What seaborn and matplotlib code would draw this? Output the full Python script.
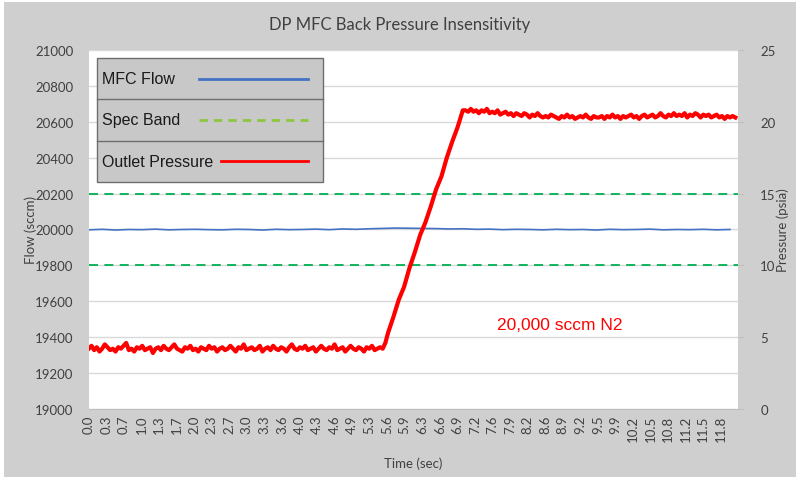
import numpy as np
import seaborn as sns
import matplotlib.pyplot as plt
from matplotlib.patches import Rectangle
from matplotlib.lines import Line2D

# ---- data ----
tick_labels = ["0.0", "0.3", "0.7", "1.0", "1.3", "1.7", "2.0", "2.3", "2.7", "3.0",
               "3.3", "3.6", "4.0", "4.3", "4.6", "4.9", "5.3", "5.6", "5.9", "6.3",
               "6.6", "6.9", "7.2", "7.6", "7.9", "8.2", "8.6", "8.9", "9.2", "9.5",
               "9.9", "10.2", "10.5", "10.8", "11.2", "11.5", "11.8"]
tick_step = 0.3285

spec_band = [20200, 19800]

# MFC flow (sccm), sampled every 0.25 s
flow = [19998, 20001, 19997, 20000, 19999, 20002, 19998, 20000, 20001,
        19999, 19998, 20001, 20000, 19997, 20001, 19999, 20000,
        20002, 19999, 20003, 20001, 20004, 20006, 20008, 20007,
        20006, 20005, 20003, 20004, 20001, 20002, 19999, 20001,
        20000, 19998, 20001, 19999, 20000, 19997, 20001, 19999,
        20000, 20002, 19998, 20000, 19999, 20001, 19998, 20000]

# outlet pressure (psia): baseline every 0.05 s from 0 s
p_base = [4.2, 4.4, 4.1, 4.3, 4.0, 4.2, 4.5, 4.3, 4.1, 4.2,
          4.0, 4.3, 4.2, 4.4, 4.6, 4.1, 4.2, 4.0, 4.3, 4.2,
          4.4, 4.1, 4.2, 4.3, 3.9, 4.2, 4.3, 4.1, 4.4, 4.2,
          4.1, 4.3, 4.5, 4.2, 4.1, 4.0, 4.3, 4.2, 4.4, 4.1,
          4.2, 4.0, 4.3, 4.2, 4.1, 4.4, 4.2, 4.3, 4.0, 4.2,
          4.3, 4.1, 4.2, 4.4, 4.2, 4.0, 4.3, 4.2, 4.5, 4.1,
          4.2, 4.3, 4.1, 4.2, 4.4, 4.0, 4.2, 4.3, 4.1, 4.4,
          4.2, 4.1, 4.3, 4.2, 4.0, 4.3, 4.5, 4.2, 4.1, 4.3,
          4.2, 4.4, 4.1, 4.2, 4.3, 4.0, 4.2, 4.4, 4.2, 4.1,
          4.3, 4.2, 4.5, 4.1, 4.2, 4.3, 4.0, 4.2, 4.4, 4.2,
          4.1, 4.3, 4.2, 4.0, 4.3, 4.2, 4.4, 4.1, 4.2, 4.3, 4.2]
# ramp
ramp_t = [5.55, 5.6, 5.7, 5.8, 5.9, 6.0, 6.1, 6.2, 6.3, 6.4, 6.5, 6.6, 6.7, 6.8, 6.9, 7.0]
ramp_p = [4.6, 5.3, 6.4, 7.6, 8.5, 9.8, 10.9, 12.1, 13.0, 14.1, 15.3, 16.2, 17.5, 18.6, 19.6, 20.8]
# plateau every 0.05 s from 7.05 s
p_top = [20.8, 20.7, 20.9, 20.7, 20.8, 20.6, 20.8, 20.7, 20.9, 20.6,
         20.7, 20.6, 20.8, 20.5, 20.6, 20.7, 20.5, 20.6, 20.4, 20.6,
         20.5, 20.4, 20.6, 20.5, 20.3, 20.5, 20.4, 20.6, 20.4, 20.3,
         20.4, 20.3, 20.5, 20.4, 20.3, 20.2, 20.4, 20.3, 20.5, 20.3,
         20.4, 20.2, 20.3, 20.4, 20.3, 20.5, 20.3, 20.2, 20.4, 20.3,
         20.3, 20.4, 20.2, 20.4, 20.3, 20.5, 20.3, 20.4, 20.2, 20.4,
         20.3, 20.4, 20.5, 20.3, 20.4, 20.2, 20.4, 20.5, 20.3, 20.4,
         20.5, 20.3, 20.4, 20.6, 20.4, 20.3, 20.5, 20.4, 20.6, 20.4,
         20.5, 20.4, 20.6, 20.3, 20.5, 20.4, 20.6, 20.5, 20.3, 20.5,
         20.4, 20.5, 20.3, 20.4, 20.5, 20.3, 20.4, 20.2, 20.4, 20.3,
         20.4, 20.3]

t_flow = np.arange(len(flow)) * 0.25
t_pres = np.concatenate([np.arange(len(p_base)) * 0.05, ramp_t,
                         7.05 + np.arange(len(p_top)) * 0.05])
pressure = np.concatenate([p_base, ramp_p, p_top])

# ---- plot ----
bg = "#d0cfcf"
fig = plt.figure(figsize=(8, 4.81), dpi=100, facecolor="white")
fig.patches.append(Rectangle((0.005, 0.006), 0.99, 0.988, transform=fig.transFigure,
                             facecolor=bg, edgecolor="none", zorder=-10))
ax = fig.add_axes([0.111, 0.1476, 0.8115, 0.7464])
ax.set_facecolor("white")
ax2 = ax.twinx()

for y in spec_band:
    ax.axhline(y, color="#00b050", lw=1.3, dashes=(5, 3.5), zorder=2)
sns.lineplot(x=t_flow, y=flow, ax=ax, color="#4472c4", linewidth=1.2,
             estimator=None, sort=False, zorder=3)
sns.lineplot(x=t_pres, y=pressure, ax=ax2, color="#ff0000", linewidth=3.0,
             estimator=None, sort=False, zorder=4)

ax.set_xlim(0, 12.15)
ax.set_ylim(19000, 21000)
ax2.set_ylim(0, 25)
ax.set_yticks(range(19000, 21001, 200))
ax2.set_yticks(range(0, 26, 5))
ax.set_xticks(np.arange(len(tick_labels)) * tick_step)
ax.set_xticklabels(tick_labels, rotation=90)
ax.grid(axis="y", color="#d9d9d9", lw=1)
ax.set_axisbelow(True)

font = "Lato"
for a in (ax, ax2):
    for s in a.spines.values():
        s.set_visible(False)
    for lab in a.get_xticklabels() + a.get_yticklabels():
        lab.set_fontfamily(font)
        lab.set_fontsize(9.5)
        lab.set_color("#404040")
ax.tick_params(axis="x", length=0, pad=4)
ax.tick_params(axis="y", length=0, pad=11)
ax2.tick_params(axis="y", length=4, color="#bfbfbf", pad=12)
ax.spines["bottom"].set_visible(True)
ax.spines["bottom"].set_color("#bfbfbf")

ax.set_xlabel("Time (sec)", fontfamily=font, fontsize=9.5, color="#404040", labelpad=11)
ax.set_ylabel("Flow (sccm)", fontfamily=font, fontsize=9.5, color="#404040")
ax2.set_ylabel("Pressure (psia)", fontfamily=font, fontsize=9.5, color="#404040")
ax.yaxis.set_label_coords(-0.080, 0.5)
ax2.yaxis.set_label_coords(1.060, 0.5)
ax2.set_xlabel("")
fig.text(0.5, 0.948, "DP MFC Back Pressure Insensitivity", ha="center", va="center",
         fontfamily=font, fontsize=12, color="#404040")

ax.text(8.82, 19473, "20,000 sccm N2", color="#ff0000", fontfamily="Liberation Sans",
        fontsize=12.5, ha="center", va="center", zorder=5)

# boxed legend with one row per series
x0, x1, y0, y1 = 0.012, 0.361, 0.632, 0.978
ax2.add_patch(Rectangle((x0, y0), x1 - x0, y1 - y0, transform=ax.transAxes,
                        facecolor="#c9c8c8", edgecolor="#6e6e6e", lw=1, zorder=10))
rows = [("MFC Flow", "#4472c4", "-", 0.169),
        ("Spec Band", "#8dc63f", "--", 0.169),
        ("Outlet Pressure", "#ff0000", "-", 0.203)]
h = (y1 - y0) / 3
for i, (name, col, ls, lx) in enumerate(rows):
    yc = y1 - h * (i + 0.5)
    ax2.text(x0 + 0.008, yc, name, transform=ax.transAxes, va="center", ha="left",
             fontfamily="Liberation Sans", fontsize=11.5, color="#1a1a1a", zorder=11)
    ln = Line2D([lx, 0.337], [yc, yc], transform=ax.transAxes, color=col, lw=2,
                zorder=11)
    if ls == "--":
        ln.set_dashes((3, 2.2))
    ax2.add_line(ln)
    if i > 0:
        ax2.add_line(Line2D([x0, x1], [y1 - h * i] * 2, transform=ax.transAxes,
                            color="#6e6e6e", lw=1, zorder=11))

fig.savefig("out.png", dpi=100, facecolor=fig.get_facecolor())
